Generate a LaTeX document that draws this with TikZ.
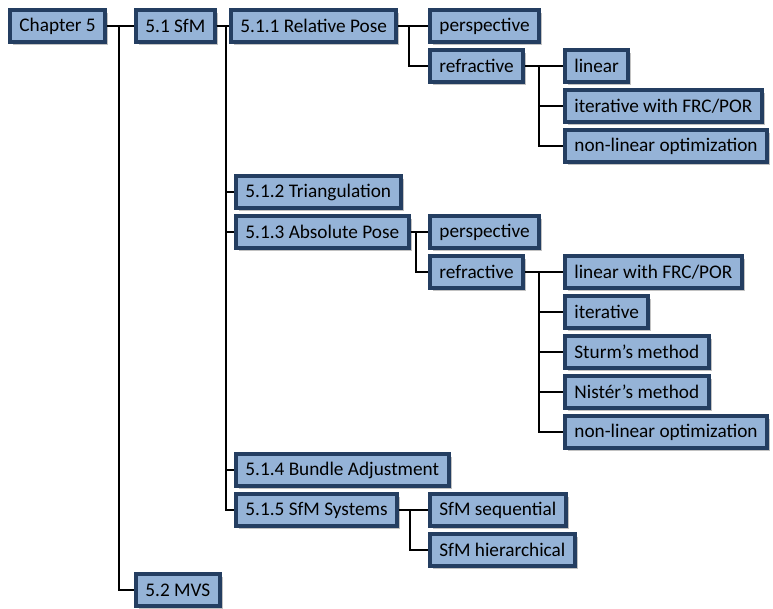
\documentclass[tikz,border=0pt]{standalone}
\usepackage{fontspec}
\setmainfont{Carlito}
\usepackage{tikz}
\usetikzlibrary{shadows}
\definecolor{BoxFill}{RGB}{149, 179, 215}
\definecolor{BoxLine}{RGB}{36, 62, 97}

\tikzset{
  box/.style={draw=BoxLine, line width=2.8pt, fill=BoxFill, anchor=west,
    minimum height=0.78cm, inner xsep=6.7pt, inner ysep=0pt,
    font=\fontsize{13.7}{16}\selectfont,
    drop shadow={shadow xshift=2.2pt, shadow yshift=-2.2pt, opacity=0.4, fill=black!60}},
  conn/.style={draw=black, line width=1.3pt}
}

\begin{document}
\begin{tikzpicture}[x=0.025cm, y=-0.025cm]
\useasboundingbox (0,0) rectangle (773,609);

% level 0 and 1
\node[box] (chap) at (8,26) {Chapter 5};
\node[box] (sfm) at (134,26) {5.1 SfM};
\node[box] (mvs) at (134,590) {5.2 MVS};

% level 2
\node[box] (relpose) at (229,26) {5.1.1 Relative Pose};
\node[box] (triang) at (234,192) {5.1.2 Triangulation};
\node[box] (abspose) at (234,232) {5.1.3 Absolute Pose};
\node[box] (bundle) at (234,470) {5.1.4 Bundle Adjustment};
\node[box] (systems) at (234,510) {5.1.5 SfM Systems};

% relative pose
\node[box] (relpersp) at (428,26) {perspective};
\node[box] (relrefr) at (428,66) {refractive};
\node[box] (rlin) at (563,66) {linear};
\node[box] (riter) at (563,106) {iterative with FRC/POR};
\node[box] (rnonlin) at (563,146) {non-linear optimization};

% absolute pose
\node[box] (abspersp) at (428,232) {perspective};
\node[box] (absrefr) at (428,272) {refractive};
\node[box] (alin) at (563,272) {linear with FRC/POR};
\node[box] (aiter) at (563,312) {iterative};
\node[box] (asturm) at (563,352) {Sturm’s method};
\node[box] (anister) at (563,392) {Nistér’s method};
\node[box] (anonlin) at (563,432) {non-linear optimization};

% sfm systems
\node[box] (sseq) at (428,510) {SfM sequential};
\node[box] (shier) at (428,550) {SfM hierarchical};

% connectors
\draw[conn] (chap.east) -- (sfm.west);
\draw[conn] (chap.east) -- ++(12,0) |- (mvs.west);

\draw[conn] (sfm.east) -- (relpose.west);
\foreach \c in {triang, abspose, bundle, systems}
  \draw[conn] (sfm.east) -- ++(9,0) |- (\c.west);

\draw[conn] (relpose.east) -- (relpersp.west);
\draw[conn] (relpose.east) -- ++(11,0) |- (relrefr.west);
\draw[conn] (relrefr.east) -- (rlin.west);
\foreach \c in {riter, rnonlin}
  \draw[conn] (relrefr.east) -- ++(14,0) |- (\c.west);

\draw[conn] (abspose.east) -- (abspersp.west);
\draw[conn] (abspose.east) -- ++(5,0) |- (absrefr.west);
\draw[conn] (absrefr.east) -- (alin.west);
\foreach \c in {aiter, asturm, anister, anonlin}
  \draw[conn] (absrefr.east) -- ++(14,0) |- (\c.west);

\draw[conn] (systems.east) -- (sseq.west);
\draw[conn] (systems.east) -- ++(11,0) |- (shier.west);
\end{tikzpicture}
\end{document}
